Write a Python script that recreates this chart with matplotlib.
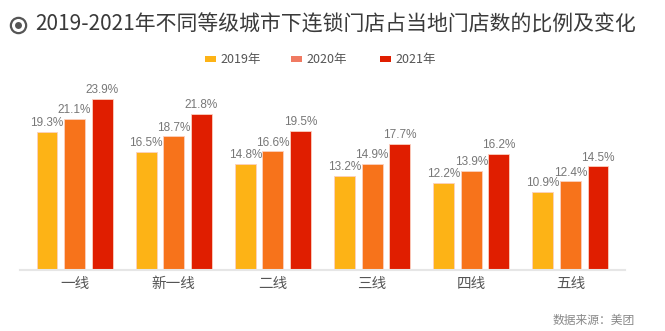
import numpy as np
import matplotlib.pyplot as plt
from matplotlib.patches import Rectangle
from matplotlib.lines import Line2D

plt.rcParams['font.family'] = ['Noto Sans CJK SC', 'DejaVu Sans']

# ============================================================
# data
CATEGORIES = ['一线', '新一线', '二线', '三线', '四线', '五线']
YEARS = ['2019年', '2020年', '2021年']
V2019 = [19.3, 16.5, 14.8, 13.2, 12.2, 10.9]
V2020 = [21.1, 18.7, 16.6, 14.9, 13.9, 12.4]
V2021 = [23.9, 21.8, 19.5, 17.7, 16.2, 14.5]
# ============================================================

COLORS = ['#FDB316', '#F7731B', '#E01E00']
LEGEND_COLORS = ['#FDB316', '#F07A62', '#E01E00']

fig = plt.figure(figsize=(6.65, 3.31), dpi=100)
W, H = 665, 331

# axes: x 20..625 px, baseline at y=270 px
ax = fig.add_axes([20 / W, (H - 270) / H, 605 / W, 170.7 / H])
x = np.arange(len(CATEGORIES))
width = 0.21
step = 0.278
for i, vals in enumerate([V2019, V2020, V2021]):
    pos = x + (i - 1) * step
    ax.bar(pos, vals, width=width, color=COLORS[i],
           edgecolor='#fbd0c0', linewidth=0.6, zorder=2)
    for xp, v in zip(pos, vals):
        ax.text(xp, v + 0.4, f'{v}%', ha='center', va='bottom',
                fontsize=8.5, color='#777777', family='Liberation Sans')

ax.set_xlim(-0.55, 5.55)
ax.set_ylim(0, 23.9)
ax.set_yticks([])
ax.set_xticks(x)
ax.set_xticklabels(CATEGORIES, fontsize=10.5, color='#555555')
ax.tick_params(axis='x', length=0, pad=5)
for s in ['top', 'right', 'left']:
    ax.spines[s].set_visible(False)
ax.spines['bottom'].set_color('#e6e6e6')
ax.spines['bottom'].set_linewidth(1.5)
ax.patch.set_alpha(0)

# title with icon
cx, cy = 18 / W, 1 - 25 / H
fig.add_artist(Line2D([cx], [cy], transform=fig.transFigure, marker='o', markersize=11,
                      markerfacecolor='none', markeredgecolor='#555555', markeredgewidth=1.6))
fig.add_artist(Line2D([cx], [cy], transform=fig.transFigure, marker='o', markersize=5,
                      markerfacecolor='#555555', markeredgecolor='none'))
fig.text(35 / W, cy, '2019-2021年不同等级城市下连锁门店占当地门店数的比例及变化',
         fontsize=15, color='#3a3a3a', va='center', ha='left', fontweight='medium')

# legend
leg_x = [205, 291, 380]
for lx, lab, c in zip(leg_x, YEARS, LEGEND_COLORS):
    fig.patches.append(Rectangle((lx / W, 1 - 62 / H), 11 / W, 6 / H,
                                 transform=fig.transFigure, facecolor=c, edgecolor='none'))
    fig.text((lx + 15) / W, 1 - 59 / H, lab, fontsize=9, color='#555555',
             va='center', ha='left')

fig.text(635 / W, 1 - 320 / H, '数据来源：美团', fontsize=8.5, color='#888888',
         ha='right', va='center')

plt.savefig('out.png', dpi=100)
